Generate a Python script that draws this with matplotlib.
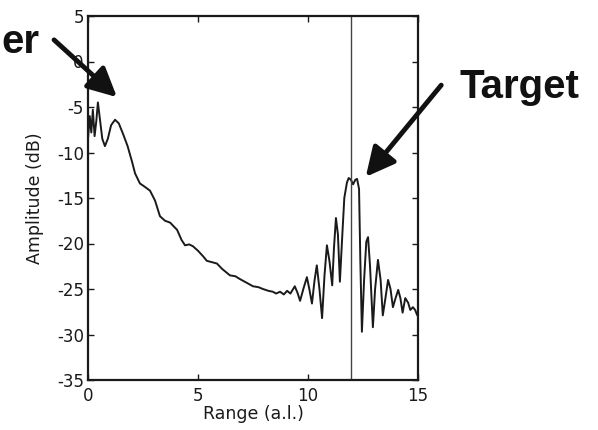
import matplotlib
matplotlib.use("Agg")
import matplotlib.pyplot as plt
from matplotlib.patches import FancyArrowPatch

# ---- data ----
range_al = [0.0, 0.08, 0.15, 0.22, 0.3, 0.38, 0.45, 0.55, 0.65, 0.77, 0.9, 1.05, 1.23, 1.4, 1.6,
            1.8, 2.0, 2.14, 2.36, 2.6, 2.82, 3.05, 3.27, 3.5, 3.73, 4.05, 4.25, 4.41, 4.6, 4.77,
            5.0, 5.23, 5.4, 5.55, 5.86, 6.1, 6.45, 6.7, 6.9, 7.2, 7.5, 7.75, 7.95, 8.2, 8.4,
            8.55, 8.73, 8.9, 9.05, 9.2, 9.4, 9.52, 9.64, 9.8, 9.95, 10.06, 10.18, 10.3, 10.4,
            10.52, 10.64, 10.75, 10.86, 10.98, 11.1, 11.18, 11.27, 11.36, 11.45, 11.55, 11.65,
            11.77, 11.85, 11.95, 12.05, 12.15, 12.23, 12.32, 12.38, 12.45, 12.55, 12.65, 12.73,
            12.82, 12.95, 13.05, 13.18, 13.3, 13.4, 13.52, 13.64, 13.75, 13.86, 13.98, 14.1,
            14.2, 14.3, 14.42, 14.55, 14.65, 14.77, 14.87, 14.95, 15.0]
amplitude_db = [-8.5, -6.0, -7.8, -5.3, -8.2, -6.5, -4.5, -6.5, -8.5, -9.3, -8.5, -7.0, -6.4, -6.8, -8.0,
                -9.3, -11.0, -12.3, -13.4, -13.8, -14.2, -15.3, -17.0, -17.5, -17.7, -18.5, -19.6, -20.2, -20.1, -20.3,
                -20.8, -21.4, -21.9, -22.0, -22.2, -22.8, -23.5, -23.6, -23.9, -24.3, -24.7, -24.8, -25.0, -25.2, -25.3,
                -25.5, -25.3, -25.6, -25.2, -25.5, -24.7, -25.4, -26.3, -24.9, -23.7, -25.0, -26.6, -24.0, -22.4,
                -25.0, -28.2, -23.5, -20.2, -22.0, -24.6, -20.5, -17.2, -19.0, -24.2, -19.5, -15.0,
                -13.3, -12.8, -13.0, -13.5, -13.0, -12.9, -14.0, -22.0, -29.7, -24.0, -19.8, -19.3,
                -22.5, -29.2, -25.0, -21.8, -24.0, -27.9, -26.0, -24.0, -25.0, -27.0, -26.0, -25.1,
                -26.0, -27.6, -26.0, -26.5, -27.3, -27.0, -27.3, -27.8, -28.0]
target_range = 11.95
x_ticks = [0, 5, 10, 15]
y_ticks = [5, 0, -5, -10, -15, -20, -25, -30, -35]

plt.rcParams['font.family'] = ['DejaVu Sans']
plt.rcParams['axes.unicode_minus'] = False

W, H = 598, 430
fig = plt.figure(figsize=(W / 100, H / 100), dpi=100)
ax = fig.add_axes([88 / W, 1 - 380 / H, 330 / W, 364 / H])

ax.plot(range_al, amplitude_db, color='#1a1a1a', lw=1.4)
ax.axvline(target_range, color='#444444', lw=1.0)

ax.set_xlim(0, 15)
ax.set_ylim(-35, 5)
ax.set_xticks(x_ticks)
ax.set_yticks(y_ticks)
ax.tick_params(direction='in', top=True, right=True, length=4, width=1,
               labelsize=12, colors='#1a1a1a')
ax.tick_params(axis='x', pad=5)
ax.tick_params(axis='y', pad=3)
for s in ax.spines.values():
    s.set_linewidth(1.6)
    s.set_color('#1a1a1a')
ax.set_xlabel('Range (a.l.)', fontsize=12.5, color='#1a1a1a', labelpad=0)
ax.set_ylabel('Amplitude (dB)', fontsize=12.5, color='#1a1a1a', labelpad=9)

# annotations (figure pixel coordinates, origin top-left converted)
def fp(x, y):
    return (x / W, 1 - y / H)

fig.text(*fp(1, 53), 'er', ha='left', va='baseline', fontsize=29,
         fontweight='bold', color='#111111', family='Liberation Sans')
fig.text(*fp(459, 98), 'Target', ha='left', va='baseline', fontsize=29,
         fontweight='bold', color='#111111', family='Liberation Sans')

for start, end in [((52, 38), (119, 99)), ((443, 83), (364, 179))]:
    arr = FancyArrowPatch(fp(*start), fp(*end), transform=fig.transFigure,
                          arrowstyle='-|>,head_length=1.1,head_width=0.55',
                          mutation_scale=16, lw=3.5, color='#111111')
    fig.patches.append(arr)

fig.savefig('out.png', dpi=100)
